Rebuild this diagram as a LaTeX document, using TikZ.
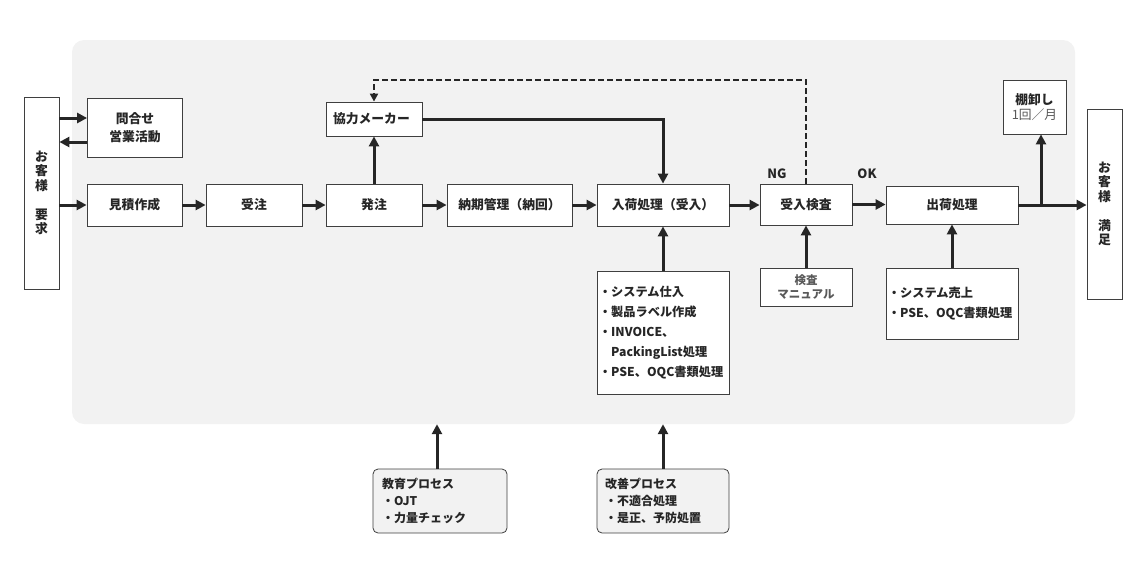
\documentclass[tikz,border=0pt]{standalone}
\usepackage{fontspec}
\setmainfont{Noto Sans CJK JP}
\usetikzlibrary{arrows.meta}
\definecolor{bordc}{HTML}{3F3F3F}
\definecolor{arrc}{HTML}{262626}
\definecolor{txtc}{HTML}{262626}
\definecolor{bgc}{HTML}{F2F2F2}
\definecolor{greyt}{HTML}{595959}
\newcommand{\fs}{\fontsize{12.8}{14.5}\selectfont}
\newcommand{\fb}{\fontsize{12.2}{20}\selectfont\bfseries}
\begin{document}
\begin{tikzpicture}[x=1pt,y=-1pt,
  box/.style={draw=bordc, fill=white, line width=0.8pt, inner sep=0pt, font=\fs, text=txtc, align=center},
  rbox/.style={box, fill=bgc, rounded corners=5pt},
  arr/.style={line width=3pt, draw=arrc, -{Triangle[length=10pt,width=10pt]}},
  dsh/.style={line width=2pt, draw=arrc, dash pattern=on 6pt off 3pt, -{Triangle[length=8pt,width=8pt]}},
  lbl/.style={font=\fs\bfseries, text=txtc, inner sep=0pt}
]
\useasboundingbox (0,0) rectangle (1144,571);
\node[fill=bgc, rounded corners=12pt, minimum width=1003pt, minimum height=384pt, inner sep=0pt] (bg) at (573.5,232) {};

% left and right customer boxes
\node[box, minimum width=35pt, minimum height=192pt, font=\fontsize{12.8}{14.5}\selectfont\bfseries] (cust1) at (41.5,193) {お\\客\\様\\[14.5pt]要\\求};
\node[box, minimum width=35pt, minimum height=190pt, font=\fontsize{12.8}{14.5}\selectfont\bfseries] (cust2) at (1104.5,204) {お\\客\\様\\[14.5pt]満\\足};

% top row boxes
\node[box, minimum width=95pt, minimum height=59pt, font=\fs\bfseries] (toiawase) at (135,127.5) {問合せ\\[4pt]営業活動};
\node[box, minimum width=96pt, minimum height=34pt, text width=82pt, align=left, font=\fs\bfseries] (kyoryoku) at (374,119) {協力メーカー};
\node[box, minimum width=63pt, minimum height=54pt, font=\fs] (tana) at (1034.5,107) {\textbf{棚卸し}\\{\color{greyt}1回／月}};

% main row
\node[box, minimum width=95pt, minimum height=42pt, font=\fs\bfseries] (mitsu) at (134.5,205) {見積作成};
\node[box, minimum width=96pt, minimum height=42pt, font=\fs\bfseries] (juchu) at (254,205) {受注};
\node[box, minimum width=96pt, minimum height=42pt, font=\fs\bfseries] (hatchu) at (374,205) {発注};
\node[box, minimum width=125pt, minimum height=42pt, font=\fs\bfseries] (nouki) at (509.5,205) {納期管理（納回）};
\node[box, minimum width=132pt, minimum height=42pt, font=\fs\bfseries] (nyuka) at (663,205) {入荷処理（受入）};
\node[box, minimum width=92pt, minimum height=41pt, font=\fs\bfseries] (ukeire) at (806,204.5) {受入検査};
\node[box, minimum width=132pt, minimum height=38pt, font=\fs\bfseries] (shukka) at (952,205) {出荷処理};

\node[lbl] (ng) at (777,174) {NG};
\node[lbl] (ok) at (867,174) {OK};

% lower boxes
\node[box, minimum width=132pt, minimum height=123pt, text width=128pt, align=left, font=\fb] (nyukab) at (663,332.5)
  {・システム仕入\\・製品ラベル作成\\・INVOICE、\\\hspace*{1em}PackingList処理\\・PSE、OQC書類処理};
\node[box, minimum width=92pt, minimum height=38pt, font=\fontsize{11.5}{13.5}\selectfont\bfseries, text=greyt] (kensa) at (806,287) {検査\\マニュアル};
\node[box, minimum width=132pt, minimum height=71pt, text width=128pt, align=left, font=\fb] (shukkab) at (952,303.5)
  {・システム売上\\・PSE、OQC書類処理};

\node[rbox, minimum width=134pt, minimum height=64pt, text width=116pt, align=left, font=\fontsize{12}{17}\selectfont\bfseries] (kyoiku) at (440,501)
  {教育プロセス\\・OJT\\・力量チェック};
\node[rbox, minimum width=132pt, minimum height=64pt, text width=116pt, align=left, font=\fontsize{12}{17}\selectfont\bfseries] (kaizen) at (663,501)
  {改善プロセス\\・不適合処理\\・是正、予防処置};

% helper coordinates
\coordinate (t1) at (0,118);
\coordinate (t2) at (0,142);
\coordinate (dtop) at (0,80);
\coordinate (br) at (1041,0);
\coordinate (kx) at (437,0);

% connectors
\draw[arr] (cust1.east |- t1) -- (toiawase.west |- t1);
\draw[arr] (toiawase.west |- t2) -- (cust1.east |- t2);
\draw[arr] (cust1.east |- mitsu) -- (mitsu.west);
\draw[arr] (mitsu) -- (juchu);
\draw[arr] (juchu) -- (hatchu);
\draw[arr] (hatchu) -- (nouki);
\draw[arr] (nouki) -- (nyuka);
\draw[arr] (nyuka.east) -- (ukeire.west |- nyuka.east);
\draw[arr] (ukeire.east) -- (shukka.west |- ukeire.east);
\draw[arr] (shukka.east) -- (cust2.west |- shukka.east);
\draw[arr] (shukka.east -| br) -- (tana.south -| br);
\draw[arr] (hatchu.north) -- (kyoryoku.south);
\draw[arr] (kyoryoku.east) -| (nyuka.north);
\draw[dsh] (ukeire.north) |- (kyoryoku.north |- dtop) -- (kyoryoku.north);
\draw[arr] (nyukab.north) -- (nyuka.south);
\draw[arr] (kensa.north) -- (ukeire.south);
\draw[arr] (shukkab.north) -- (shukka.south);
\draw[arr] (kyoiku.north -| kx) -- (bg.south -| kx);
\draw[arr] (kaizen.north) -- (kaizen.north |- bg.south);
\end{tikzpicture}
\end{document}
